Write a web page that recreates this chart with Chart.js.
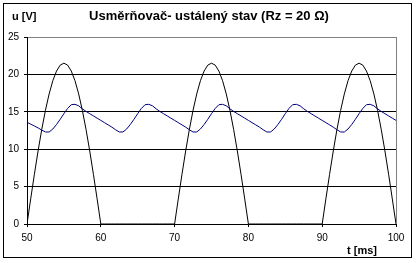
<!DOCTYPE html>
<html>
<head>
<meta charset="utf-8">
<script src="https://cdn.jsdelivr.net/npm/chart.js@4/dist/chart.umd.min.js"></script>
<style>
  body { margin: 0; background: #fff; }
  canvas { display: block; }
</style>
</head>
<body>
<canvas id="myChart" width="418" height="263"></canvas>
<script>
const chartTitle = 'Usměrňovač- ustálený stav (Rz = 20 Ω)';
const yTitle = 'u [V]';
const xTitle = 't [ms]';

const yTicks = [0, 5, 10, 15, 20, 25];
const xTicks = [50, 60, 70, 80, 90, 100];

// time in ms
const time = [
  50, 50.5, 51, 51.5, 52, 52.5, 53, 53.5, 54, 54.5, 55, 55.5, 56, 56.5, 57, 57.5, 58, 58.5, 59, 59.5,
  60, 60.5, 61, 61.5, 62, 62.5, 63, 63.5, 64, 64.5, 65, 65.5, 66, 66.5, 67, 67.5, 68, 68.5, 69, 69.5,
  70, 70.5, 71, 71.5, 72, 72.5, 73, 73.5, 74, 74.5, 75, 75.5, 76, 76.5, 77, 77.5, 78, 78.5, 79, 79.5,
  80, 80.5, 81, 81.5, 82, 82.5, 83, 83.5, 84, 84.5, 85, 85.5, 86, 86.5, 87, 87.5, 88, 88.5, 89, 89.5,
  90, 90.5, 91, 91.5, 92, 92.5, 93, 93.5, 94, 94.5, 95, 95.5, 96, 96.5, 97, 97.5, 98, 98.5, 99, 99.5,
  100
];

// source voltage after the diode (black)
const uSource = [
  0, 3.36, 6.64, 9.76, 12.64, 15.2, 17.39, 19.16, 20.45, 21.24, 21.5, 21.24, 20.45, 19.16, 17.39, 15.2, 12.64, 9.76, 6.64, 3.36,
  0, 0, 0, 0, 0, 0, 0, 0, 0, 0, 0, 0, 0, 0, 0, 0, 0, 0, 0, 0,
  0, 3.36, 6.64, 9.76, 12.64, 15.2, 17.39, 19.16, 20.45, 21.24, 21.5, 21.24, 20.45, 19.16, 17.39, 15.2, 12.64, 9.76, 6.64, 3.36,
  0, 0, 0, 0, 0, 0, 0, 0, 0, 0, 0, 0, 0, 0, 0, 0, 0, 0, 0, 0,
  0, 3.36, 6.64, 9.76, 12.64, 15.2, 17.39, 19.16, 20.45, 21.24, 21.5, 21.24, 20.45, 19.16, 17.39, 15.2, 12.64, 9.76, 6.64, 3.36,
  0
];

// load voltage (blue)
const uLoad = [
  13.6, 13.35, 13.1, 12.85, 12.55, 12.3, 12.3, 12.7, 13.3, 14.0, 14.75, 15.45, 15.95, 16.0, 15.8, 15.4, 15.05, 14.75, 14.45, 14.15,
  13.85, 13.55, 13.25, 12.95, 12.6, 12.3, 12.3, 12.7, 13.3, 14.0, 14.75, 15.45, 15.95, 16.0, 15.8, 15.4, 15.05, 14.75, 14.45, 14.15,
  13.85, 13.55, 13.25, 12.95, 12.6, 12.3, 12.3, 12.7, 13.3, 14.0, 14.75, 15.45, 15.95, 16.0, 15.8, 15.4, 15.05, 14.75, 14.45, 14.15,
  13.85, 13.55, 13.25, 12.95, 12.6, 12.3, 12.3, 12.7, 13.3, 14.0, 14.75, 15.45, 15.95, 16.0, 15.8, 15.4, 15.05, 14.75, 14.45, 14.15,
  13.85, 13.55, 13.25, 12.95, 12.6, 12.3, 12.3, 12.7, 13.3, 14.0, 14.75, 15.45, 15.95, 16.0, 15.8, 15.4, 15.05, 14.75, 14.45, 14.15,
  13.85
];

const fontFamily = '"Liberation Sans", Arial, sans-serif';

function toPoints(values) {
  return values.map((v, i) => ({ x: time[i], y: v }));
}

// frame + texts drawn like the excel chart
const decorPlugin = {
  id: 'decor',
  beforeDraw(chart) {
    const c = chart.ctx;
    c.save();
    c.fillStyle = '#fff';
    c.fillRect(0, 0, chart.width, chart.height);
    c.strokeStyle = '#000';
    c.lineWidth = 1;
    c.strokeRect(3.5, 3.5, 408, 254);
    c.restore();
  },
  afterDraw(chart) {
    const c = chart.ctx;
    c.save();
    c.fillStyle = '#000';
    c.textBaseline = 'middle';
    c.font = 'bold 13px ' + fontFamily;
    c.textAlign = 'center';
    c.fillText(chartTitle, 209, 16);
    c.font = 'bold 11px ' + fontFamily;
    c.textAlign = 'left';
    c.fillText(yTitle, 12, 17);
    c.fillText(xTitle, 347, 251);
    c.restore();
  }
};

const ctx = document.getElementById('myChart').getContext('2d');

const myChart = new Chart(ctx, {
  type: 'line',
  data: {
    datasets: [{
      label: 'u zdroj',
      data: toPoints(uSource),
      borderColor: '#000000',
      borderWidth: 1,
      pointRadius: 0,
      tension: 0
    }, {
      label: 'u zátěž',
      data: toPoints(uLoad),
      borderColor: '#000080',
      borderWidth: 1,
      pointRadius: 0,
      tension: 0
    }]
  },
  options: {
    responsive: false,
    animation: false,
    layout: { padding: { left: 0, top: 37, right: 22, bottom: 0 } },
    plugins: {
      legend: { display: false },
      title: { display: false },
      tooltip: { enabled: false }
    },
    scales: {
      x: {
        type: 'linear',
        min: 50,
        max: 100,
        afterFit(scale) { scale.height = 39; },
        afterBuildTicks(scale) { scale.ticks = xTicks.map(v => ({ value: v })); },
        ticks: {
          color: '#000',
          padding: 5,
          maxRotation: 0,
          font: { family: fontFamily, size: 10 }
        },
        grid: {
          color: (c) => c.tick && c.tick.value === 100 ? '#808080' : 'rgba(0,0,0,0)',
          tickColor: '#000',
          tickLength: 3,
          lineWidth: 1
        },
        border: { display: true, color: '#000', width: 1 }
      },
      y: {
        min: 0,
        max: 25,
        afterFit(scale) { scale.width = 27; },
        afterBuildTicks(scale) { scale.ticks = yTicks.map(v => ({ value: v })); },
        ticks: {
          color: '#000',
          padding: 5,
          font: { family: fontFamily, size: 10 }
        },
        grid: {
          color: (c) => c.tick && c.tick.value === 25 ? '#808080' : '#000',
          tickColor: '#000',
          tickLength: 3,
          lineWidth: 1
        },
        border: { display: true, color: '#000', width: 1 }
      }
    }
  },
  plugins: [decorPlugin]
});
</script>
</body>
</html>
